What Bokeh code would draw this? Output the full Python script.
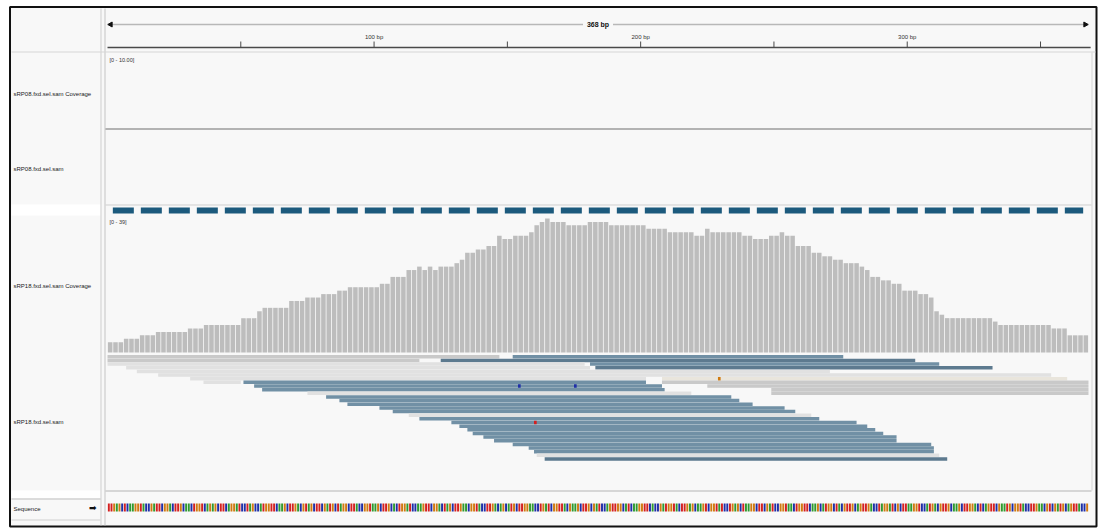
import numpy as np
from bokeh.plotting import figure
from bokeh.models import Range1d, ColumnDataSource
from bokeh.core.properties import value
from bokeh.embed import file_html
from bokeh.resources import INLINE

# ---------------- data ----------------
SPAN_BP = 368
ruler_label = "368 bp"
tick_bp = [50, 100, 150, 200, 250, 300, 350]
tick_text = ["", "100 bp", "", "200 bp", "", "300 bp", ""]

track_names = ["sRP08.fxd.sel.sam Coverage", "sRP08.fxd.sel.sam",
               "sRP18.fxd.sel.sam Coverage", "sRP18.fxd.sel.sam", "Sequence"]
range_labels = ["[0 - 10.00]", "[0 - 39]"]

# coverage of sRP18, 2-bp bins, stored as runs of equal depth
COV_MAX = 39
BIN_BP = 2
cov_depth = [3, 4, 5, 6, 7, 8, 10, 12, 13, 15, 16, 17, 18, 19, 20, 22, 24, 25, 24, 25,
             24, 25, 26, 27, 29, 30, 31, 34, 33, 34, 35, 37, 38, 39, 38, 37, 38, 37, 36, 35,
             34, 36, 35, 34, 33, 34, 35, 34, 31, 29, 28, 27, 26, 25, 24, 22, 21, 20, 18, 17,
             16, 12, 11, 10, 9, 8, 7, 5]
cov_bins = [3, 3, 3, 6, 3, 7, 3, 1, 5, 3, 3, 3, 2, 6, 2, 3, 2, 1, 1, 1,
            1, 3, 1, 1, 2, 2, 2, 1, 2, 3, 1, 1, 1, 1, 3, 4, 4, 7, 4, 5,
            2, 1, 6, 2, 3, 2, 1, 2, 3, 2, 2, 2, 3, 1, 1, 2, 2, 2, 3, 2,
            1, 1, 1, 9, 1, 10, 3, 4]

# packed alignments: row, start (bp), end (bp), style
read_row = [0, 0, 1, 1, 2, 2, 3, 3, 4, 5, 6, 6, 7, 7, 7, 8, 8, 9, 9, 10, 10,
            11, 12, 13, 14, 15, 16, 17, 18, 19, 20, 21, 22, 23, 24, 25, 26, 27, 28]
read_start = [0, 152, 0, 125, 0, 181, 7, 183, 11, 19, 31, 208, 36, 51, 208, 55, 225, 58, 249, 75, 249,
              82, 87, 90, 102, 107, 113, 117, 129, 132, 135, 137, 141, 145, 152, 158, 160, 161, 164]
read_end = [147, 276, 117, 303, 179, 312, 181, 332, 271, 354, 202, 360, 50, 202, 368, 208, 368, 209, 368, 219, 368,
            234, 237, 242, 254, 258, 264, 267, 281, 285, 288, 291, 296, 296, 309, 310, 310, 312, 315]
read_kind = ["gray", "steel", "gray", "dark", "light", "steel", "light", "dark", "light", "light",
             "light", "pale", "light", "steel", "gray", "steel", "gray", "steel", "gray", "light", "gray",
             "steel", "steel", "steel", "steel", "steel", "light", "steel", "steel", "steel", "steel",
             "steel", "steel", "steel", "steel", "steel", "steel", "light", "dark"]

# mismatched bases inside reads
mm_row = [8, 8, 6, 18]
mm_pos = [154, 175, 229, 160]
mm_base = ["C", "C", "G", "T"]

# reference sequence of the window
sequence = "".join([
    "TTGAGCTCAA", "GGTACCGATT", "CGGACTTGCA", "ACTGGTCAGA",
    "GCTTCAGGAT", "CCTAGCCATG", "GTTCAAGCTT", "GACGTAGCTT",
    "CGATGCTAGG", "CTTACCGGTA", "AGCTTGCACT", "GGATCCAAGT",
    "TCGGACTAGC", "TTGAACGGTA", "CCTTGACAGC", "ATGCTTGGAA",
    "CCTGATCGGT", "TACGAAGCTT", "GCGATCCAGT", "TGGCATCAAG",
    "GTTCACCGAT", "GGTACTTGAG", "CAAGTCGGTA", "TCCTGAGCTA",
    "AGGCTTCGAT", "CCGGTAACTG", "GTTCAAGCAT", "GGCTACGTTG",
    "CAGTTGACCT", "AGGATCGCTT", "AAGGTCCATG", "ACGTTGCAAG",
    "CTTGGACTCA", "GTTCGAATGC", "GGTACCTTGA", "ACGTCGATGC",
    "AGTTACCG",
])

downsample_span = [2, 366]

# ---------------- styling / layout ----------------
W, H = 1104, 529
DATA_L, DATA_R = 107, 1088          # pixel extent of the genomic window
COV_BASE, COV_TOP = 352, 218        # pixel rows of depth 0 and COV_MAX
ROW0, ROW_PITCH = 356.3, 3.65       # alignment row layout
FONT = value("Liberation Sans")

base_color = {"A": "#2f9a2f", "C": "#1f2fa8", "G": "#d07a10", "T": "#d42020"}
kind_color = {"gray": "#c9c9c9", "light": "#e1e1e1", "pale": "#e9e5dc",
              "steel": "#7190a5", "dark": "#5d7a8f"}

k = (DATA_R - DATA_L) / SPAN_BP
u = (COV_BASE - COV_TOP) / COV_MAX

p = figure(width=W, height=H, x_range=Range1d(0, W), y_range=Range1d(H, 0),
           output_backend="svg", toolbar_location=None, min_border=0,
           x_axis_type=None, y_axis_type=None)
p.grid.visible = False
p.outline_line_color = None
p.background_fill_color = "white"
p.border_fill_color = "white"

p.extra_x_ranges = {"bp": Range1d(-DATA_L / k, (W - DATA_L) / k)}
p.extra_y_ranges = {
    "cov": Range1d((COV_BASE - H) / u, COV_BASE / u),
    "rows": Range1d((H - ROW0) / ROW_PITCH, -ROW0 / ROW_PITCH),
}

# window frame and panels
p.quad(left=[9.5], right=[1096], top=[6.5], bottom=[526], fill_color="#f8f8f8",
       line_color="#111111", line_width=2)
p.quad(left=[11, 11], right=[100, 100], top=[204, 490], bottom=[215, 498],
       fill_color="#ffffff", line_color=None)
p.segment(x0=[100.5, 104.5, 1091.5], y0=[8, 8, 52], x1=[100.5, 104.5, 1091.5], y1=[525, 525, 490],
          line_color=["#cfcfcf", "#c4c4c4", "#d4d4d4"], line_width=1)
p.segment(x0=[11, 105, 105, 105, 11, 11], y0=[51.5, 128.5, 204.5, 490.5, 498.5, 519.5],
          x1=[1095, 1091, 1091, 1091, 100, 100], y1=[51.5, 128.5, 204.5, 490.5, 498.5, 519.5],
          line_color=["#d6d6d6", "#6e6e6e", "#cfcfcf", "#b4b4b4", "#bdbdbd", "#d0d0d0"],
          line_width=1)

# ruler
half_gap = 15 / k
mid = SPAN_BP / 2
p.segment(x0=[0, mid + half_gap], x1=[mid - half_gap, SPAN_BP], y0=[24, 24], y1=[24, 24],
          x_range_name="bp", line_color="#b8b8b8", line_width=1.5)
p.scatter(x=[1.2, SPAN_BP - 1.2], y=[24, 24], x_range_name="bp", marker="triangle",
          angle=[np.pi / 2, -np.pi / 2], size=5, fill_color="#111111", line_color="#111111")
p.text(x=[mid], y=[24], text=[ruler_label], x_range_name="bp", text_font=FONT,
       text_font_size="7px", text_font_style="bold", text_align="center",
       text_baseline="middle", text_color="#111111")
p.segment(x0=[0], x1=[SPAN_BP + 0.8], y0=[47], y1=[47], x_range_name="bp",
          line_color="#4a4a4a", line_width=1.3)
p.segment(x0=tick_bp, x1=tick_bp, y0=[47] * len(tick_bp), y1=[41] * len(tick_bp),
          x_range_name="bp", line_color="#4a4a4a", line_width=1)
p.text(x=tick_bp, y=[36.5] * len(tick_bp), text=tick_text, x_range_name="bp", text_font=FONT,
       text_font_size="6px", text_align="center", text_baseline="middle", text_color="#333333")

# track names
p.text(x=[13] * 5, y=[93, 168, 285, 421, 508], text=track_names, text_font=FONT,
       text_font_size="6px", text_align="left", text_baseline="middle", text_color="#1a1a1a")
p.text(x=[96], y=[507], text=["\u27a1"], text_font=value("DejaVu Sans"), text_font_size="9px",
       text_align="right", text_baseline="middle", text_color="#111111")
p.text(x=[109, 109], y=[59, 221], text=range_labels, text_font=FONT, text_font_size="5.5px",
       text_align="left", text_baseline="middle", text_color="#333333")

# downsampled-region marker above the alignments
p.line(x=downsample_span, y=[210, 210], x_range_name="bp", line_color="#1c5a7d",
       line_width=6, line_dash="21 7")

# coverage
depth = np.repeat(cov_depth, cov_bins)
centers = np.arange(len(depth)) * BIN_BP + BIN_BP / 2
p.vbar(x=centers, top=depth, bottom=0, width=BIN_BP * 0.85, x_range_name="bp",
       y_range_name="cov", fill_color="#bdbdbd", line_color=None)

# alignments
reads = ColumnDataSource(dict(row=read_row, left=read_start, right=read_end,
                              color=[kind_color[c] for c in read_kind]))
p.hbar(y="row", left="left", right="right", height=0.95, source=reads,
       x_range_name="bp", y_range_name="rows", fill_color="color", line_color=None)
p.rect(x=[m + 0.5 for m in mm_pos], y=mm_row, width=1.0, height=0.95,
       x_range_name="bp", y_range_name="rows",
       fill_color=[base_color[b] for b in mm_base], line_color=None)

# sequence
seq_x = [i + 0.5 for i in range(len(sequence))]
p.rect(x=seq_x, y=[507] * len(sequence), width=0.72, height=8, x_range_name="bp",
       fill_color=[base_color[b] for b in sequence], line_color=None)

open("out.html", "w").write(file_html(p, INLINE))
